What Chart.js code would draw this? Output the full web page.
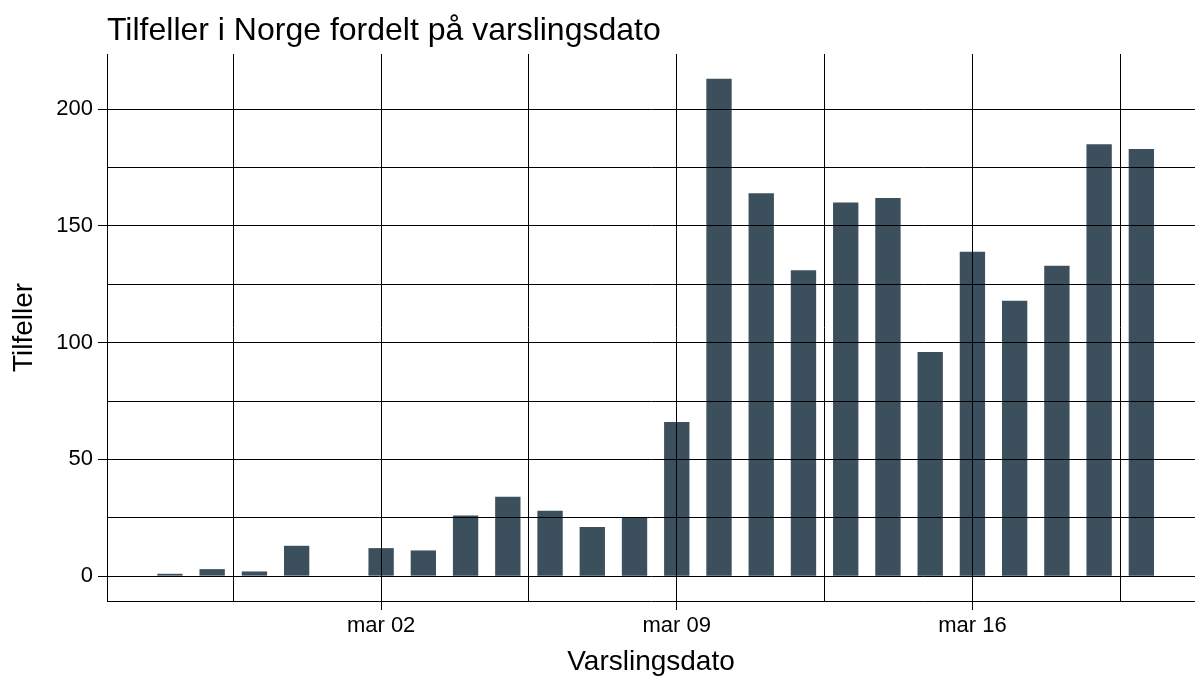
<!DOCTYPE html>
<html>
<head>
<meta charset="utf-8">
<title>Tilfeller i Norge</title>
<script src="https://cdn.jsdelivr.net/npm/chart.js@4.4.0/dist/chart.umd.min.js"></script>
<style>
  html, body { margin: 0; padding: 0; background: #fff; }
  #wrap { width: 1195px; height: 679px; }
</style>
</head>
<body>
<div id="wrap"><canvas id="chart" width="1195" height="679"></canvas></div>
<script>
// Données : tilfeller per varslingsdato
const dates = ['2020-02-26', '2020-02-27', '2020-02-28', '2020-02-29', '2020-03-01',
  '2020-03-02', '2020-03-03', '2020-03-04', '2020-03-05', '2020-03-06', '2020-03-07',
  '2020-03-08', '2020-03-09', '2020-03-10', '2020-03-11', '2020-03-12', '2020-03-13',
  '2020-03-14', '2020-03-15', '2020-03-16', '2020-03-17', '2020-03-18', '2020-03-19',
  '2020-03-20'];
const cases = [1, 3, 2, 13, 0, 12, 11, 26, 34, 28, 21, 25, 66, 213, 164, 131, 160,
  162, 96, 139, 118, 133, 185, 183];

// Ticks de l'axe x (jours depuis le 29 février = 0)
const xMajorDays = [2, 9, 16];
const xMajorLabels = ['mar 02', 'mar 09', 'mar 16'];
const xMinorDays = [-1.5, 5.5, 12.5, 19.5];
const yMajorTicks = [0, 50, 100, 150, 200];
const yMinorTicks = [25, 75, 125, 175];

// Convertir une date en nombre de jours (1 mars = 1)
const base = Date.UTC(2020, 2, 0);
function toDay(s) {
  const p = s.split('-');
  return (Date.UTC(+p[0], +p[1] - 1, +p[2]) - base) / 86400000;
}

const points = dates.map((d, i) => ({ x: toDay(d), y: cases[i] }));
const font = 'Liberation Sans, Arial, sans-serif';

const ctx = document.getElementById('chart').getContext('2d');
new Chart(ctx, {
  type: 'bar',
  data: {
    datasets: [{
      label: 'Tilfeller',
      data: points,
      backgroundColor: '#3C4F5C',
      borderWidth: 0,
      barPercentage: 0.6,
      categoryPercentage: 1.0
    }]
  },
  options: {
    responsive: false,
    animation: false,
    layout: { padding: 0 },
    plugins: {
      legend: { display: false },
      tooltip: { enabled: false },
      title: {
        display: true,
        text: 'Tilfeller i Norge fordelt på varslingsdato',
        align: 'start',
        fullSize: false,
        color: '#000',
        font: { family: font, size: 32, weight: 'normal', lineHeight: 1.2 },
        padding: { top: 12, bottom: 3.6 }
      }
    },
    scales: {
      x: {
        type: 'linear',
        offset: false,
        min: -4.49,
        max: 21.27,
        afterBuildTicks: (scale) => {
          scale.ticks = xMinorDays.concat(xMajorDays).sort((a, b) => a - b).map(v => ({ value: v }));
        },
        afterFit: (scale) => { scale.height = 78; },
        ticks: {
          autoSkip: false,
          maxRotation: 0,
          color: '#000',
          padding: 3,
          font: { family: font, size: 22 },
          callback: (v) => {
            const i = xMajorDays.indexOf(v);
            return i >= 0 ? xMajorLabels[i] : '';
          }
        },
        grid: {
          z: 1,
          offset: false,
          color: '#000',
          lineWidth: 1,
          tickLength: 9,
          tickColor: (c) => (c.tick && xMajorDays.includes(c.tick.value)) ? '#000' : 'rgba(0,0,0,0)'
        },
        border: { display: true, color: '#000', width: 1, z: 2 },
        title: {
          display: true,
          text: 'Varslingsdato',
          color: '#000',
          font: { family: font, size: 28, lineHeight: 1.2 },
          padding: { top: 0, bottom: 0 }
        }
      },
      y: {
        type: 'linear',
        min: -10.65,
        max: 223.65,
        afterBuildTicks: (scale) => {
          scale.ticks = yMajorTicks.concat(yMinorTicks).sort((a, b) => a - b).map(v => ({ value: v }));
        },
        afterFit: (scale) => { scale.width = 107; },
        ticks: {
          color: '#000',
          padding: 5,
          font: { family: font, size: 22 },
          callback: (v) => yMajorTicks.includes(v) ? String(v) : ''
        },
        grid: {
          z: 1,
          color: '#000',
          lineWidth: 1,
          tickLength: 9,
          tickColor: (c) => (c.tick && yMajorTicks.includes(c.tick.value)) ? '#000' : 'rgba(0,0,0,0)'
        },
        border: { display: true, color: '#000', width: 1, z: 2 },
        title: {
          display: true,
          text: 'Tilfeller',
          color: '#000',
          font: { family: font, size: 28, lineHeight: 1.2 },
          padding: { top: 7, bottom: 0 }
        }
      }
    }
  }
});
</script>
</body>
</html>
